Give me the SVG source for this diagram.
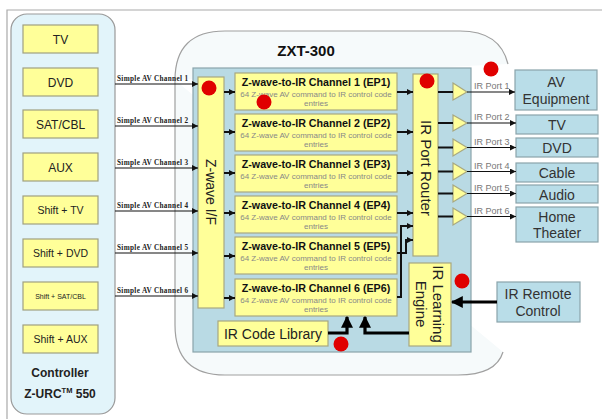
<svg xmlns="http://www.w3.org/2000/svg" width="602" height="419" viewBox="0 0 602 419">
<defs>
<style>
text{font-family:"Liberation Sans",Arial,sans-serif;}
.btn{fill:#ffff99;stroke:#a0a080;stroke-width:1.2;}
.yel{fill:#ffff99;stroke:#a8a880;stroke-width:1.2;}
.dev{fill:#b9dde8;stroke:#8aa4ab;stroke-width:1.2;}
.bt{font-size:12px;fill:#222;text-anchor:middle;}
.ct{font-size:10.7px;font-weight:bold;fill:#111;text-anchor:middle;}
.cs{font-size:8px;fill:#888;text-anchor:middle;}
.dt{font-size:14px;fill:#333;text-anchor:middle;}
.pl{font-size:9px;fill:#777;}
.sl{font-family:"Liberation Serif",serif;font-size:7.2px;font-weight:bold;fill:#222;}
.ln{fill:none;stroke:#111;stroke-width:1.2;}
.tk{fill:none;stroke:#111;stroke-width:2;}
.bk{fill:none;stroke:#000;stroke-width:3.2;}
.dot{fill:#e00000;}
</style>
<marker id="a" viewBox="0 0 10 10" refX="10" refY="5" markerWidth="6" markerHeight="6" markerUnits="userSpaceOnUse" orient="auto"><path d="M0,0 L10,5 L0,10 z" fill="#111"/></marker>
<marker id="b" viewBox="0 0 10 10" refX="9" refY="5" markerWidth="12" markerHeight="12" markerUnits="userSpaceOnUse" orient="auto"><path d="M0,0 L10,5 L0,10 z" fill="#000"/></marker>
</defs>
<rect width="602" height="419" fill="#fff"/>
<path d="M7,419 V10 H602" fill="none" stroke="#aaa" stroke-width="1.2"/>

<g id="controller">
<rect x="11" y="14" width="104" height="400" rx="16" fill="#e2f4fa" stroke="#999" stroke-width="1.2"/>
<rect class="btn" x="23" y="25" width="75" height="28"/><text class="bt" x="60.5" y="43.5">TV</text>
<rect class="btn" x="23" y="68" width="75" height="28"/><text class="bt" x="60.5" y="86.5">DVD</text>
<rect class="btn" x="23" y="110" width="75" height="28"/><text class="bt" x="60.5" y="128.5">SAT/CBL</text>
<rect class="btn" x="23" y="153" width="75" height="28"/><text class="bt" x="60.5" y="171.5">AUX</text>
<rect class="btn" x="23" y="196" width="75" height="28"/><text class="bt" x="60.5" y="214" style="font-size:10.5px">Shift + TV</text>
<rect class="btn" x="23" y="239" width="75" height="28"/><text class="bt" x="60.5" y="257" style="font-size:10.5px">Shift + DVD</text>
<rect class="btn" x="23" y="282" width="75" height="28"/><text class="bt" x="60.5" y="298.5" style="font-size:7px">Shift + SAT/CBL</text>
<rect class="btn" x="23" y="325" width="75" height="28"/><text class="bt" x="60.5" y="343" style="font-size:10.5px">Shift + AUX</text>
<text class="bt" x="60" y="377" style="font-weight:bold">Controller</text>
<text class="bt" x="60" y="398" style="font-weight:bold">Z-URC<tspan font-size="7.5" dy="-5">TM</tspan><tspan dy="5"> 550</tspan></text>
</g>

<g id="zxt300">
<path d="M175,80 Q175,31 225,31 H460 Q500,31 508,64 M175,80 V325 Q175,375 225,375 H458 Q496,375 503,352" fill="#f6fafb" stroke="#a0a0a0" stroke-width="1.2"/>
<text x="306" y="56" style="font-size:15px;font-weight:bold;fill:#111;text-anchor:middle">ZXT-300</text>
<rect x="193" y="68" width="278" height="284" fill="#b9dae4" stroke="#8aa4ab" stroke-width="1.2"/>
</g>

<g id="zwave-if">
<rect class="yel" x="198" y="77" width="26" height="231"/>
<text transform="translate(211,192) rotate(90)" style="font-size:14px;fill:#222;text-anchor:middle" y="5">Z-wave I/F</text>
</g>

<g id="ch1"><rect class="yel" x="235" y="73" width="162" height="37"/><text class="ct" x="316" y="86">Z-wave-to-IR Channel 1 (EP1)</text><text class="cs" x="316" y="97">64 Z-wave AV command to IR control code</text><text class="cs" x="316" y="106">entries</text></g>
<g id="ch2"><rect class="yel" x="235" y="114" width="162" height="37"/><text class="ct" x="316" y="127">Z-wave-to-IR Channel 2 (EP2)</text><text class="cs" x="316" y="138">64 Z-wave AV command to IR control code</text><text class="cs" x="316" y="147">entries</text></g>
<g id="ch3"><rect class="yel" x="235" y="155" width="162" height="37"/><text class="ct" x="316" y="168">Z-wave-to-IR Channel 3 (EP3)</text><text class="cs" x="316" y="179">64 Z-wave AV command to IR control code</text><text class="cs" x="316" y="188">entries</text></g>
<g id="ch4"><rect class="yel" x="235" y="196" width="162" height="37"/><text class="ct" x="316" y="209">Z-wave-to-IR Channel 4 (EP4)</text><text class="cs" x="316" y="220">64 Z-wave AV command to IR control code</text><text class="cs" x="316" y="229">entries</text></g>
<g id="ch5"><rect class="yel" x="235" y="237" width="162" height="37"/><text class="ct" x="316" y="250">Z-wave-to-IR Channel 5 (EP5)</text><text class="cs" x="316" y="261">64 Z-wave AV command to IR control code</text><text class="cs" x="316" y="270">entries</text></g>
<g id="ch6"><rect class="yel" x="235" y="279" width="162" height="37"/><text class="ct" x="316" y="292">Z-wave-to-IR Channel 6 (EP6)</text><text class="cs" x="316" y="303">64 Z-wave AV command to IR control code</text><text class="cs" x="316" y="312">entries</text></g>

<g id="ir-port-router">
<rect class="yel" x="413" y="74" width="25" height="182"/>
<text transform="translate(425.5,168) rotate(90)" style="font-size:15px;fill:#222;text-anchor:middle" y="5">IR Port Router</text>
</g>

<g id="ir-learning-engine">
<rect class="yel" x="409" y="263" width="42" height="83"/>
<text transform="translate(430,304) rotate(90)" style="font-size:15px;fill:#222;text-anchor:middle"><tspan x="0" y="-3">IR Learning</tspan><tspan x="0" y="14">Engine</tspan></text>
</g>

<g id="ir-code-library">
<rect class="yel" x="218" y="321" width="110" height="25"/>
<text x="273" y="338.5" style="font-size:14px;fill:#222;text-anchor:middle">IR Code Library</text>
</g>

<g id="buffers">
<path class="yel" d="M453,83 L467,92 L453,100 z"/>
<path class="yel" d="M453,115 L467,123 L453,131 z"/>
<path class="yel" d="M453,139 L467,147.5 L453,156 z"/>
<path class="yel" d="M453,163 L467,171.5 L453,180 z"/>
<path class="yel" d="M453,185 L467,193.5 L453,202 z"/>
<path class="yel" d="M453,208 L467,216.5 L453,225 z"/>
</g>

<g id="av-equipment"><rect class="dev" x="515" y="70" width="82" height="40"/><text class="dt" x="556" y="87">AV</text><text class="dt" x="556" y="104">Equipment</text></g>
<g id="tv"><rect class="dev" x="516" y="115" width="82" height="19"/><text class="dt" x="557" y="130">TV</text></g>
<g id="dvd"><rect class="dev" x="516" y="138" width="82" height="19"/><text class="dt" x="557" y="153">DVD</text></g>
<g id="cable"><rect class="dev" x="516" y="163" width="82" height="19"/><text class="dt" x="557" y="178">Cable</text></g>
<g id="audio"><rect class="dev" x="516" y="185" width="82" height="18"/><text class="dt" x="557" y="199.5">Audio</text></g>
<g id="home-theater"><rect class="dev" x="516" y="207" width="82" height="35"/><text class="dt" x="557" y="222">Home</text><text class="dt" x="557" y="238">Theater</text></g>
<g id="ir-remote-control"><rect class="dev" x="497" y="282" width="83" height="40"/><text class="dt" x="538" y="299">IR Remote</text><text class="dt" x="538" y="316">Control</text></g>

<g id="connectors">
<path class="ln" marker-end="url(#a)" d="M115,84 H198"/>
<path class="ln" marker-end="url(#a)" d="M115,126 H198"/>
<path class="ln" marker-end="url(#a)" d="M115,168 H198"/>
<path class="ln" marker-end="url(#a)" d="M115,211 H198"/>
<path class="ln" marker-end="url(#a)" d="M115,253 H198"/>
<path class="ln" marker-end="url(#a)" d="M115,296 H198"/>
<text class="sl" x="117" y="81" textLength="71">Simple AV Channel 1</text>
<text class="sl" x="117" y="123" textLength="71">Simple AV Channel 2</text>
<text class="sl" x="117" y="165" textLength="71">Simple AV Channel 3</text>
<text class="sl" x="117" y="208" textLength="71">Simple AV Channel 4</text>
<text class="sl" x="117" y="250" textLength="71">Simple AV Channel 5</text>
<text class="sl" x="117" y="293" textLength="71">Simple AV Channel 6</text>

<path class="tk" marker-end="url(#a)" d="M224,92 H235"/>
<path class="tk" marker-end="url(#a)" d="M224,132 H235"/>
<path class="tk" marker-end="url(#a)" d="M224,173 H235"/>
<path class="tk" marker-end="url(#a)" d="M224,213 H235"/>
<path class="tk" marker-end="url(#a)" d="M224,256 H235"/>
<path class="tk" marker-end="url(#a)" d="M224,298 H235"/>

<path class="tk" marker-end="url(#a)" d="M397,92 H413"/>
<path class="tk" marker-end="url(#a)" d="M397,132 H413"/>
<path class="tk" marker-end="url(#a)" d="M397,173 H413"/>
<path class="tk" marker-end="url(#a)" d="M397,213 H413"/>
<path class="tk" marker-end="url(#a)" d="M397,253 H406 V240 H413"/>
<path class="tk" marker-end="url(#a)" d="M397,297 H401 V226 H413"/>

<path class="tk" d="M438,92 H453 M438,123 H453 M438,147.5 H453 M438,171.5 H453 M438,193.5 H453 M438,216.5 H453"/>
<path class="ln" marker-end="url(#a)" d="M467,92 H515"/>
<path class="ln" marker-end="url(#a)" d="M467,123 H516"/>
<path class="ln" marker-end="url(#a)" d="M467,147.5 H516"/>
<path class="ln" marker-end="url(#a)" d="M467,171.5 H516"/>
<path class="ln" marker-end="url(#a)" d="M467,193.5 H516"/>
<path class="ln" marker-end="url(#a)" d="M467,216.5 H516"/>
<text class="pl" x="474" y="89">IR Port 1</text>
<text class="pl" x="474" y="120">IR Port 2</text>
<text class="pl" x="474" y="144.5">IR Port 3</text>
<text class="pl" x="474" y="168.5">IR Port 4</text>
<text class="pl" x="474" y="190.5">IR Port 5</text>
<text class="pl" x="474" y="213.5">IR Port 6</text>

<path class="bk" marker-end="url(#b)" d="M497,302 H452"/>
<path class="bk" marker-end="url(#b)" d="M409,333 H365 V317"/>
<path class="bk" marker-end="url(#b)" d="M328,333 H347 V317"/>
</g>

<g id="markers">
<circle class="dot" cx="209" cy="88" r="7.5"/>
<circle class="dot" cx="264" cy="102" r="7.5"/>
<circle class="dot" cx="427" cy="81" r="7.5"/>
<circle class="dot" cx="491" cy="69" r="7.5"/>
<circle class="dot" cx="462" cy="281" r="7.5"/>
<circle class="dot" cx="341" cy="344" r="7.5"/>
</g>
</svg>
